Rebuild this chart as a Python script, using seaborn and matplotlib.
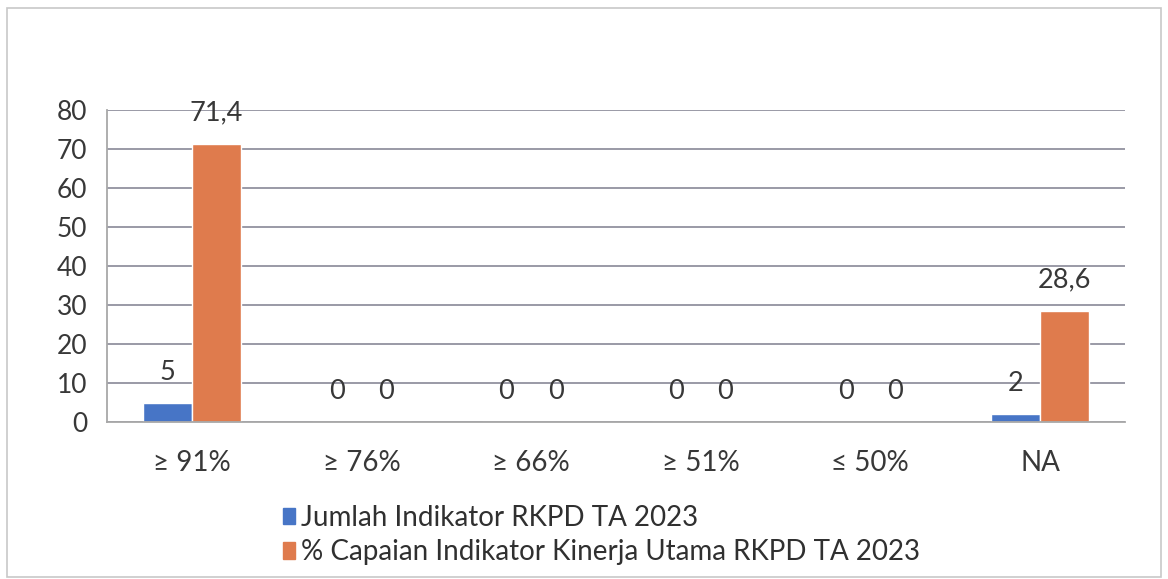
import pandas as pd
import numpy as np
import matplotlib
matplotlib.use("Agg")
import matplotlib.pyplot as plt
import seaborn as sns
from matplotlib.patches import Rectangle

# ---------------- data ----------------
categories = ["\u2265 91%", "\u2265 76%", "\u2265 66%", "\u2265 51%", "\u2264 50%", "NA"]
jumlah = [5, 0, 0, 0, 0, 2]
capaian = [71.4, 0, 0, 0, 0, 28.6]
series_names = ["Jumlah Indikator RKPD TA 2023",
                "% Capaian Indikator Kinerja Utama RKPD TA 2023"]
y_ticks = [0, 10, 20, 30, 40, 50, 60, 70, 80]

df = pd.DataFrame({
    "Kategori": categories * 2,
    "Nilai": jumlah + capaian,
    "Seri": [series_names[0]] * len(categories) + [series_names[1]] * len(categories),
})

# ---------------- plot ----------------
sns.set_style("white")
plt.rcParams["font.family"] = ["Lato", "DejaVu Sans"]

fig = plt.figure(figsize=(11.68, 5.79), dpi=100)
ax = fig.add_axes([0.0916, 0.271, 0.8714, 0.539])

colors = ["#4775C6", "#DF7B4D"]
sns.barplot(data=df, x="Kategori", y="Nilai", hue="Seri", order=categories,
            hue_order=series_names, palette=colors, width=0.58, saturation=1,
            ax=ax, legend=False)

ax.set_ylim(0, 80)
ax.set_xlim(-0.5, len(categories) - 0.5)
ax.set_yticks(y_ticks)
ax.set_xlabel("")
ax.set_ylabel("")
ax.yaxis.grid(True, color="#9a9aa6", linewidth=1.4)
ax.set_axisbelow(True)

for side in ["top", "right"]:
    ax.spines[side].set_visible(False)
for side in ["left", "bottom"]:
    ax.spines[side].set_color("#a8a8a8")
    ax.spines[side].set_linewidth(1.3)

ax.tick_params(axis="y", length=8, color="#a8a8a8", width=1.3, labelsize=19,
               labelcolor="#383838", pad=6)
ax.tick_params(axis="x", which="major", length=0, labelsize=20,
               labelcolor="#383838", pad=20)
ax.set_xticks(np.arange(-0.5, len(categories), 1.0), minor=True)
ax.tick_params(axis="x", which="minor", length=9, color="#a8a8a8", width=1.3)

# value labels (comma decimal)
def fmt(v):
    return f"{v:g}".replace(".", ",")

for cont, vals in zip(ax.containers, [jumlah, capaian]):
    ax.bar_label(cont, labels=[fmt(v) for v in vals], padding=13,
                 fontsize=19.5, color="#383838")

# legend below
handles = [plt.Rectangle((0, 0), 1, 1, color=c) for c in colors]
fig.legend(handles, series_names, loc="upper left",
           bbox_to_anchor=(0.242, 0.128), frameon=False,
           fontsize=20, handlelength=0.45, handleheight=0.55,
           handletextpad=0.2, labelspacing=0.3, labelcolor="#303030",
           borderaxespad=0, borderpad=0)

# outer frame
fig.patches.append(Rectangle((0.006, 0.004), 0.988, 0.982, transform=fig.transFigure,
                             fill=False, edgecolor="#c8c8c8", linewidth=1.2))

fig.savefig("out.png", dpi=100)
